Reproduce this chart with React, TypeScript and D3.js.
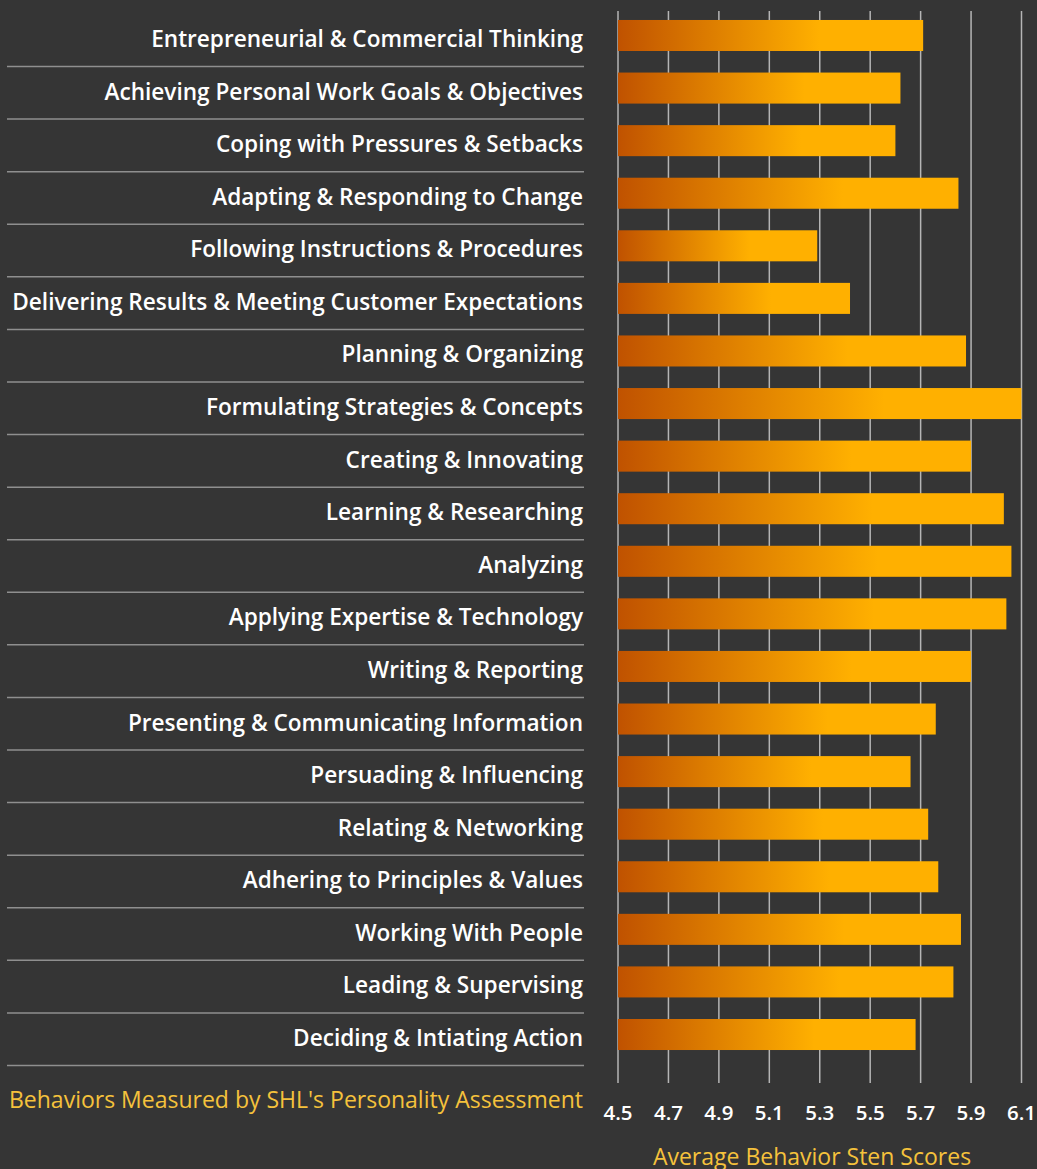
import React, { useEffect, useRef } from "react";
import * as d3 from "d3";

// behaviours, top to bottom
const behaviors = [
  "Entrepreneurial & Commercial Thinking",
  "Achieving Personal Work Goals & Objectives",
  "Coping with Pressures & Setbacks",
  "Adapting & Responding to Change",
  "Following Instructions & Procedures",
  "Delivering Results & Meeting Customer Expectations",
  "Planning & Organizing",
  "Formulating Strategies & Concepts",
  "Creating & Innovating",
  "Learning & Researching",
  "Analyzing",
  "Applying Expertise & Technology",
  "Writing & Reporting",
  "Presenting & Communicating Information",
  "Persuading & Influencing",
  "Relating & Networking",
  "Adhering to Principles & Values",
  "Working With People",
  "Leading & Supervising",
  "Deciding & Intiating Action",
];

const stenScores = [
  5.71, 5.62, 5.6, 5.85, 5.29, 5.42, 5.88, 6.1, 5.9, 6.03,
  6.06, 6.04, 5.9, 5.76, 5.66, 5.73, 5.77, 5.86, 5.83, 5.68,
];

const tickValues = [4.5, 4.7, 4.9, 5.1, 5.3, 5.5, 5.7, 5.9, 6.1];

const yAxisTitle = "Behaviors Measured by SHL's Personality Assessment";
const xAxisTitle = "Average Behavior Sten Scores";

const W = 1037;
const H = 1169;
const FONT = "'Open Sans', 'Noto Sans', sans-serif";

export default function App() {
  const ref = useRef<SVGSVGElement>(null);

  useEffect(() => {
    const svg = d3.select(ref.current);
    svg.selectAll("*").remove();

    const data = behaviors.map((name, i) => ({ name, value: stenScores[i] }));

    const x = d3.scaleLinear().domain([4.5, 6.1]).range([618, 1021.5]);
    const y = d3
      .scaleBand()
      .domain(behaviors)
      .range([9.2, 1060.8])
      .paddingInner(0.41)
      .paddingOuter(0.205);

    svg.append("rect").attr("width", W).attr("height", H).attr("fill", "#353535");

    const defs = svg.append("defs");
    const grad = defs
      .append("linearGradient")
      .attr("id", "barGrad")
      .attr("x1", "0")
      .attr("x2", "1")
      .attr("y1", "0")
      .attr("y2", "0");
    grad.append("stop").attr("offset", "0").attr("stop-color", "#c05200");
    grad.append("stop").attr("offset", "0.66").attr("stop-color", "#ffb000");
    grad.append("stop").attr("offset", "1").attr("stop-color", "#ffb000");

    // vertical grid lines
    svg
      .append("g")
      .selectAll("line")
      .data(tickValues)
      .enter()
      .append("line")
      .attr("x1", (d) => x(d))
      .attr("x2", (d) => x(d))
      .attr("y1", 11)
      .attr("y2", 1083)
      .attr("stroke", "#b5b5b5")
      .attr("stroke-width", 1.5);

    // bars
    svg
      .append("g")
      .selectAll("rect")
      .data(data)
      .enter()
      .append("rect")
      .attr("x", x(4.5))
      .attr("y", (d) => y(d.name)!)
      .attr("width", (d) => x(d.value) - x(4.5))
      .attr("height", y.bandwidth())
      .attr("fill", "url(#barGrad)");

    // row separators
    svg
      .append("g")
      .selectAll("line")
      .data(data)
      .enter()
      .append("line")
      .attr("x1", 7)
      .attr("x2", 584)
      .attr("y1", (d) => y(d.name)! + y.bandwidth() / 2 + 31)
      .attr("y2", (d) => y(d.name)! + y.bandwidth() / 2 + 31)
      .attr("stroke", "#8f8f8f")
      .attr("stroke-width", 1.5);

    // category labels
    svg
      .append("g")
      .selectAll("text")
      .data(data)
      .enter()
      .append("text")
      .attr("x", 583)
      .attr("y", (d) => y(d.name)! + y.bandwidth() / 2 + 3)
      .attr("text-anchor", "end")
      .attr("dominant-baseline", "central")
      .style("font-family", FONT)
      .style("font-size", "22.6px")
      .style("font-weight", 600)
      .attr("fill", "#ffffff")
      .text((d) => d.name);

    // tick labels
    svg
      .append("g")
      .selectAll("text")
      .data(tickValues)
      .enter()
      .append("text")
      .attr("x", (d) => x(d))
      .attr("y", 1112)
      .attr("text-anchor", "middle")
      .attr("dominant-baseline", "central")
      .style("font-family", FONT)
      .style("font-size", "20.5px")
      .style("font-weight", 600)
      .attr("fill", "#ffffff")
      .text((d) => d3.format(".1f")(d));

    svg
      .append("text")
      .attr("x", 583)
      .attr("y", 1099)
      .attr("text-anchor", "end")
      .attr("dominant-baseline", "central")
      .style("font-family", FONT)
      .style("font-size", "23px")
      .attr("fill", "#f5c23c")
      .text(yAxisTitle);

    svg
      .append("text")
      .attr("x", 812)
      .attr("y", 1156)
      .attr("text-anchor", "middle")
      .attr("dominant-baseline", "central")
      .style("font-family", FONT)
      .style("font-size", "23px")
      .attr("fill", "#f5c23c")
      .text(xAxisTitle);
  }, []);

  return (
    <div style={{ position: "absolute", left: 0, top: 0 }}>
      <svg ref={ref} width={W} height={H} style={{ display: "block" }} />
    </div>
  );
}
